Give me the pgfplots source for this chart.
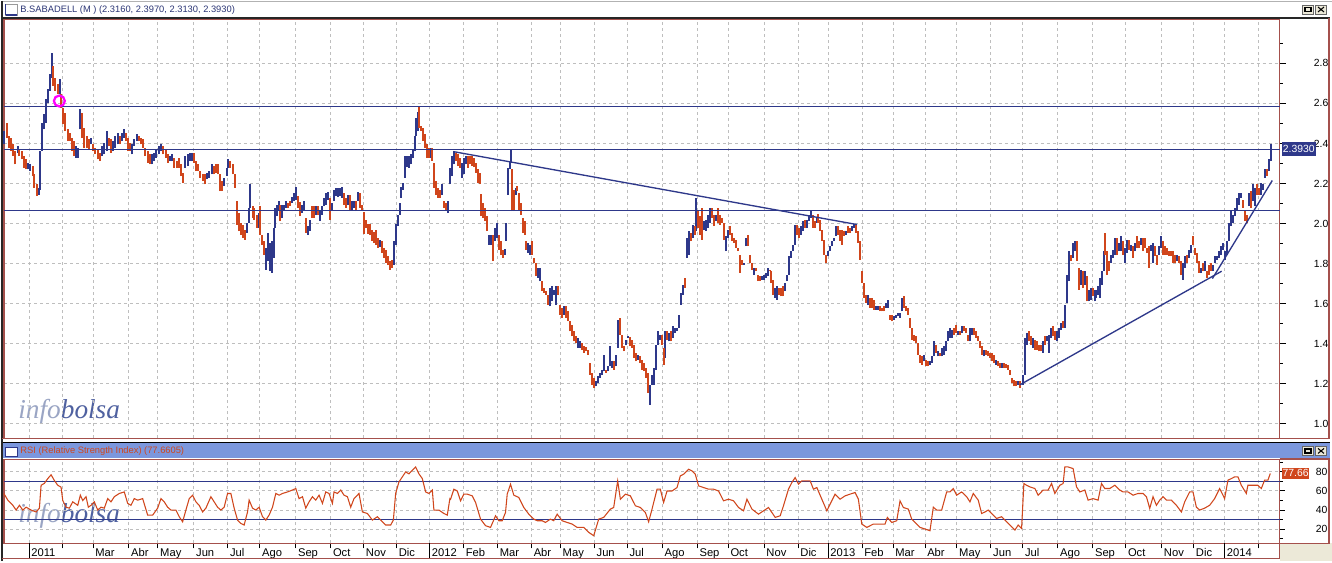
\documentclass[border=0pt]{standalone}
\usepackage{fontspec}
\setmainfont{Liberation Sans}
\newfontfamily\wmfont{Liberation Serif}
\usepackage{pgfplots}
\usepackage{pgfplotstable}
\pgfplotsset{compat=1.18}
\definecolor{navy}{HTML}{2E388A}
\definecolor{upc}{HTML}{2E388A}
\definecolor{dnc}{HTML}{D0461C}
\definecolor{frame}{HTML}{A4504C}
\definecolor{gridc}{HTML}{BEBEBE}
\definecolor{hdr}{HTML}{7B97DD}
\definecolor{beige}{HTML}{ECE9D8}
\definecolor{magent}{HTML}{FF00FF}
\definecolor{titlec}{HTML}{2B3575}
\definecolor{wminfo}{HTML}{9AA5C4}
\definecolor{wmbolsa}{HTML}{4F61A0}

\pgfplotstableread{
x lo hi
3.3 2.395 2.462
16.7 2.354 2.387
27.3 2.270 2.304
29.3 2.262 2.295
37.7 2.145 2.179
39.3 2.170 2.362
41 2.362 2.504
43.3 2.470 2.545
45.3 2.504 2.620
47.3 2.604 2.670
49 2.662 2.745
50.7 2.729 2.850
58.7 2.645 2.720
75 2.329 2.387
76.7 2.329 2.379
79 2.470 2.570
90 2.395 2.429
101.3 2.337 2.387
103.3 2.345 2.404
105.7 2.362 2.462
112 2.362 2.412
114.3 2.379 2.437
116.7 2.395 2.454
120.7 2.412 2.454
122.7 2.429 2.470
131.3 2.345 2.395
133.3 2.387 2.420
135.7 2.412 2.445
151 2.295 2.345
153.3 2.312 2.354
155.3 2.329 2.370
157.7 2.345 2.387
160 2.362 2.395
169 2.312 2.337
171 2.312 2.345
184.3 2.279 2.337
186.7 2.287 2.345
189 2.312 2.354
191 2.312 2.354
206 2.220 2.254
208.3 2.229 2.262
210.7 2.245 2.295
223.3 2.187 2.229
225.7 2.237 2.279
227.3 2.279 2.320
246 1.954 2.004
247.7 2.004 2.079
249.3 2.079 2.195
257.7 1.979 2.054
265 1.770 1.879
267 1.812 1.954
269 1.762 1.904
271 1.754 1.912
273 1.829 1.979
274.3 1.979 2.079
276.3 2.037 2.095
277.7 2.062 2.115
281 2.029 2.095
283 2.070 2.095
285 2.079 2.112
291 2.104 2.132
293 2.112 2.154
295 2.120 2.182
301 2.054 2.095
303 2.070 2.112
307 1.945 1.987
309 1.962 2.020
315 2.045 2.087
319 2.012 2.070
321 2.045 2.087
323 2.087 2.129
325 2.095 2.154
327 2.120 2.159
331 2.070 2.104
333 2.112 2.170
335 2.137 2.179
337 2.132 2.179
339 2.137 2.179
341 2.129 2.182
347 2.095 2.142
351 2.070 2.115
353 2.079 2.115
357 2.115 2.159
379 1.882 1.917
393 1.795 1.912
395 1.895 1.999
397 1.987 2.045
399 2.045 2.104
400.3 2.129 2.182
402.3 2.170 2.204
404.3 2.229 2.337
406.3 2.282 2.337
408.3 2.279 2.337
410.3 2.295 2.345
412.3 2.325 2.370
414 2.362 2.437
415.7 2.437 2.529
417 2.462 2.559
430 2.329 2.379
441.7 2.145 2.195
447.3 2.054 2.112
449.3 2.195 2.279
451 2.237 2.337
453 2.295 2.362
461 2.229 2.304
463 2.245 2.329
465 2.295 2.337
488.7 1.895 1.945
490.7 1.895 1.945
494.3 1.912 1.979
496.3 1.929 2.004
504.3 1.845 1.875
505.7 1.912 2.004
507.7 2.145 2.279
509 2.270 2.312
510.3 2.304 2.370
515 2.145 2.179
528 1.854 1.904
530 1.845 1.895
538 1.729 1.779
540 1.712 1.779
550 1.587 1.679
552 1.612 1.687
554 1.645 1.670
556 1.595 1.687
564 1.545 1.587
578 1.379 1.429
580 1.379 1.412
595.3 1.187 1.212
597.3 1.204 1.237
599.3 1.229 1.254
601.3 1.245 1.270
603.3 1.262 1.345
607.3 1.262 1.287
609.3 1.287 1.387
611.3 1.279 1.312
615.3 1.287 1.345
617.3 1.379 1.520
625.3 1.395 1.420
627.3 1.429 1.437
637.3 1.320 1.345
649.3 1.095 1.195
651.3 1.195 1.245
653.3 1.195 1.279
655.3 1.270 1.395
657.3 1.395 1.462
659.3 1.420 1.445
664.7 1.329 1.462
668.7 1.412 1.454
672.7 1.429 1.487
674.7 1.454 1.479
676.7 1.462 1.479
678.7 1.479 1.545
680.7 1.595 1.654
682.7 1.645 1.695
686.7 1.829 1.929
688.7 1.845 1.962
692.7 1.929 1.995
695.7 1.962 2.129
703.7 1.970 2.012
705.7 1.962 2.020
707.7 1.979 2.045
709.7 2.004 2.079
715.7 2.012 2.045
725.7 1.862 1.937
727.7 1.929 1.970
743.7 1.795 1.804
745.7 1.887 1.929
753.7 1.745 1.779
761.7 1.720 1.737
763.7 1.720 1.745
765.7 1.729 1.754
767.7 1.737 1.779
775 1.629 1.679
777 1.620 1.687
785 1.662 1.704
787 1.712 1.745
789 1.745 1.837
791 1.829 1.862
793 1.862 1.895
795 1.895 1.995
801 1.945 1.987
803 1.962 2.012
807 1.979 2.020
809 2.012 2.045
811 2.029 2.062
817 2.004 2.029
828.3 1.837 1.862
830.3 1.862 1.887
832.3 1.887 1.912
834.3 1.912 1.929
836.3 1.937 1.987
846.3 1.945 1.962
852.3 1.962 1.987
854.3 1.979 1.999
868.3 1.595 1.645
876.3 1.570 1.587
878.3 1.570 1.587
886.3 1.579 1.604
888.3 1.579 1.620
894.3 1.520 1.537
896.3 1.529 1.545
898.3 1.537 1.554
900.3 1.529 1.554
902.3 1.562 1.629
924.3 1.312 1.345
930.3 1.295 1.312
932.3 1.304 1.337
934.3 1.337 1.412
938.3 1.337 1.362
942.3 1.337 1.379
944.3 1.345 1.387
946.3 1.362 1.412
948.3 1.412 1.462
950.3 1.429 1.479
952.3 1.429 1.470
958.3 1.445 1.462
962.3 1.454 1.487
970.3 1.412 1.479
972.3 1.445 1.479
984.3 1.337 1.370
996.3 1.295 1.320
1002.3 1.279 1.304
1018.3 1.195 1.212
1022.7 1.195 1.245
1024.7 1.245 1.429
1026.7 1.395 1.454
1032.7 1.379 1.429
1042.7 1.354 1.412
1046.7 1.412 1.437
1048.7 1.354 1.445
1050.7 1.429 1.479
1056.7 1.412 1.462
1058.7 1.429 1.479
1060.7 1.470 1.504
1064.7 1.479 1.595
1066.7 1.604 1.745
1068.7 1.712 1.862
1072.7 1.829 1.904
1074.7 1.862 1.912
1080.7 1.695 1.770
1084.7 1.695 1.762
1088.7 1.612 1.670
1090.7 1.620 1.679
1094.7 1.612 1.670
1096.7 1.629 1.670
1098.7 1.645 1.687
1100.7 1.629 1.729
1102.7 1.695 1.762
1104 1.762 1.862
1111.7 1.804 1.845
1113.7 1.829 1.870
1115.7 1.845 1.929
1119.7 1.862 1.904
1121.7 1.862 1.937
1125.7 1.804 1.879
1127.7 1.854 1.920
1131.7 1.862 1.895
1135.7 1.862 1.904
1141.7 1.895 1.929
1151.7 1.862 1.895
1153.7 1.804 1.904
1159.7 1.845 1.887
1161.7 1.879 1.937
1177.7 1.812 1.845
1183.3 1.720 1.804
1185.3 1.779 1.837
1189.3 1.829 1.870
1191.3 1.854 1.895
1201.3 1.754 1.779
1205.3 1.762 1.812
1213.3 1.762 1.795
1215.3 1.804 1.837
1217.3 1.820 1.837
1219.3 1.829 1.862
1221.3 1.845 1.887
1223.3 1.870 1.904
1225.3 1.820 1.862
1227.3 1.845 1.912
1229.3 1.912 2.004
1231.3 1.987 2.062
1233.3 2.004 2.045
1235.3 2.037 2.079
1237.3 2.070 2.129
1239.3 2.095 2.154
1241.3 2.129 2.154
1249.3 2.087 2.154
1253.3 2.112 2.195
1255.3 2.087 2.179
1261.3 2.145 2.204
1263.3 2.170 2.195
1265.3 2.229 2.270
1269.3 2.262 2.320
1271.3 2.312 2.399
}\upbars

\pgfplotstableread{
x lo hi
5.7 2.429 2.504
8 2.379 2.437
10 2.362 2.429
12.3 2.337 2.395
14.3 2.295 2.362
18.3 2.337 2.370
20.7 2.320 2.362
22.7 2.279 2.337
25 2.270 2.320
31.7 2.237 2.287
33.3 2.179 2.245
35.7 2.137 2.195
52.3 2.687 2.787
54.3 2.662 2.729
56.7 2.645 2.695
60.3 2.579 2.645
62 2.495 2.579
64.3 2.462 2.554
66.7 2.412 2.470
69 2.412 2.454
71 2.362 2.429
73 2.337 2.412
81 2.429 2.554
83.3 2.379 2.479
85.7 2.379 2.437
87.7 2.370 2.420
92.3 2.362 2.395
94.3 2.345 2.379
96.7 2.320 2.370
99 2.312 2.354
107.7 2.387 2.429
110 2.354 2.420
118.7 2.395 2.437
124.7 2.412 2.454
126.7 2.362 2.429
129 2.362 2.404
137.7 2.412 2.437
140 2.395 2.429
142.3 2.379 2.420
144.3 2.337 2.379
146.7 2.304 2.362
149 2.295 2.345
162.3 2.345 2.387
164.7 2.329 2.370
166.7 2.304 2.345
173.3 2.279 2.329
175.7 2.279 2.312
177.7 2.279 2.329
180 2.237 2.295
182.3 2.204 2.254
192.7 2.304 2.354
195 2.262 2.312
197.3 2.262 2.295
199.3 2.229 2.262
201.7 2.212 2.245
204 2.195 2.245
212.7 2.245 2.287
215 2.254 2.295
217 2.245 2.295
219 2.162 2.245
221 2.162 2.212
229.3 2.279 2.312
231.7 2.245 2.295
234 2.179 2.245
235.7 1.995 2.112
237.7 1.962 2.054
240 1.945 2.004
242.3 1.929 1.995
244.3 1.920 1.970
251.7 2.029 2.087
253.3 2.020 2.079
255.7 1.979 2.045
259 1.945 2.087
261 1.895 1.945
263 1.845 1.912
279.3 2.012 2.095
287 2.079 2.104
289 2.087 2.112
297 2.079 2.137
299 2.037 2.107
305 1.954 2.029
311 2.029 2.087
313 2.029 2.087
317 2.045 2.090
329 2.020 2.129
343 2.095 2.154
345 2.079 2.129
349 2.062 2.142
355 2.062 2.112
359 2.079 2.154
361 2.070 2.095
363 1.949 2.059
365 1.979 2.020
367 1.949 1.999
369 1.942 1.999
371 1.912 1.970
373 1.904 1.959
375 1.895 1.970
377 1.879 1.929
381 1.854 1.915
383 1.829 1.879
385 1.804 1.870
387 1.792 1.837
389 1.770 1.812
391 1.779 1.820
418.3 2.479 2.584
420.3 2.462 2.487
422.3 2.412 2.475
424.3 2.379 2.445
426 2.329 2.395
428 2.329 2.379
431.7 2.312 2.379
433.7 2.179 2.304
435.7 2.145 2.212
437.7 2.129 2.179
439.7 2.129 2.170
443.7 2.079 2.112
445.7 2.070 2.104
455 2.312 2.354
457 2.287 2.345
459 2.279 2.329
467 2.279 2.337
469 2.295 2.337
471 2.287 2.337
473 2.282 2.325
475 2.254 2.304
477 2.204 2.270
479 2.195 2.254
480.7 2.037 2.149
482.7 2.029 2.104
484.7 2.012 2.079
486.7 1.962 2.037
492.3 1.812 1.945
498.3 1.870 1.945
500.3 1.845 1.912
502.3 1.829 1.870
511.7 2.062 2.270
513.3 2.062 2.170
516.7 2.162 2.187
518.7 2.070 2.154
520.7 2.045 2.104
522.7 1.954 2.029
524.7 1.945 2.012
526 1.870 1.912
532 1.845 1.912
534 1.804 1.829
536 1.737 1.804
542 1.662 1.712
544 1.654 1.679
546 1.645 1.662
548 1.595 1.645
558 1.645 1.687
560 1.545 1.595
562 1.529 1.579
566 1.529 1.587
568 1.512 1.562
570 1.462 1.512
572 1.437 1.495
574 1.412 1.462
576 1.404 1.437
582 1.370 1.404
584 1.354 1.387
586 1.362 1.382
588 1.345 1.370
589.3 1.245 1.304
591.3 1.195 1.254
593.3 1.179 1.229
605.3 1.254 1.270
613.3 1.270 1.312
619.3 1.445 1.529
621.3 1.379 1.445
623.3 1.362 1.387
629.3 1.387 1.432
631.3 1.379 1.420
633.3 1.329 1.395
635.3 1.312 1.354
639.3 1.304 1.337
641.3 1.270 1.320
643.3 1.262 1.304
645.3 1.229 1.279
647.3 1.154 1.254
661.3 1.395 1.445
663.3 1.295 1.379
666.7 1.420 1.462
670.7 1.412 1.462
684.7 1.679 1.729
690.7 1.912 1.954
694.3 1.945 1.987
697.7 1.979 2.062
699.7 1.945 2.037
701.7 1.920 2.079
711.7 2.029 2.079
713.7 1.987 2.045
717.7 2.004 2.079
719.7 1.995 2.045
721.7 2.004 2.029
723.7 1.920 2.004
729.7 1.945 1.987
731.7 1.912 1.954
733.7 1.904 1.929
735.7 1.879 1.920
737.7 1.862 1.879
739.7 1.754 1.845
741.7 1.795 1.820
747.7 1.887 1.945
749.7 1.804 1.845
751.7 1.770 1.804
755.7 1.762 1.779
757.7 1.712 1.745
759.7 1.712 1.737
769.7 1.762 1.770
771 1.704 1.762
773 1.645 1.720
779 1.645 1.679
781 1.637 1.679
783 1.637 1.687
797 1.945 1.995
799 1.929 1.979
805 1.979 2.020
813 1.979 2.045
815 1.979 2.012
818.3 2.004 2.049
820.3 1.962 2.020
822.3 1.912 1.970
824.3 1.845 1.920
826.3 1.804 1.845
838.3 1.945 1.987
840.3 1.912 1.970
842.3 1.895 1.970
844.3 1.937 1.962
848.3 1.954 1.987
850.3 1.954 1.979
856.3 1.954 1.995
858.3 1.904 1.962
860.3 1.820 1.912
862.3 1.704 1.762
864.3 1.629 1.704
866.3 1.604 1.645
870.3 1.579 1.629
872.3 1.579 1.629
874.3 1.570 1.620
880.3 1.562 1.587
882.3 1.562 1.579
884.3 1.562 1.587
890.3 1.520 1.545
892.3 1.512 1.545
904.3 1.579 1.637
906.3 1.562 1.587
908.3 1.545 1.579
910.3 1.479 1.529
912.3 1.420 1.479
914.3 1.412 1.445
916.3 1.404 1.437
918.3 1.345 1.404
920.3 1.304 1.345
922.3 1.295 1.337
926.3 1.287 1.320
928.3 1.287 1.312
936.3 1.354 1.395
940.3 1.337 1.354
954.3 1.445 1.479
956.3 1.454 1.495
960.3 1.445 1.462
964.3 1.462 1.487
966.3 1.454 1.479
968.3 1.412 1.445
974.3 1.445 1.479
976.3 1.429 1.462
978.3 1.412 1.437
980.3 1.379 1.412
982.3 1.345 1.387
986.3 1.345 1.370
988.3 1.337 1.362
990.3 1.329 1.354
992.3 1.312 1.354
994.3 1.304 1.345
998.3 1.287 1.312
1000.3 1.279 1.304
1004.3 1.279 1.304
1006.3 1.279 1.299
1008.3 1.270 1.295
1010.3 1.245 1.270
1012.3 1.204 1.229
1014.3 1.187 1.220
1016.3 1.187 1.212
1020.3 1.179 1.212
1028.7 1.412 1.462
1030.7 1.395 1.437
1034.7 1.370 1.420
1036.7 1.370 1.412
1038.7 1.362 1.395
1040.7 1.362 1.395
1044.7 1.395 1.437
1052.7 1.437 1.487
1054.7 1.420 1.462
1062.7 1.479 1.512
1070.7 1.812 1.845
1076.7 1.812 1.912
1078.7 1.670 1.779
1082.7 1.679 1.762
1086.7 1.612 1.737
1092.7 1.637 1.679
1105.7 1.845 1.954
1107.7 1.745 1.862
1109.7 1.762 1.812
1117.7 1.845 1.929
1123.7 1.845 1.912
1129.7 1.870 1.920
1133.7 1.829 1.887
1137.7 1.879 1.937
1139.7 1.879 1.912
1143.7 1.862 1.929
1145.7 1.879 1.929
1147.7 1.854 1.879
1149.7 1.779 1.887
1155.7 1.837 1.887
1157.7 1.795 1.845
1163.7 1.845 1.912
1165.7 1.845 1.887
1167.7 1.845 1.879
1169.7 1.837 1.862
1171.7 1.837 1.862
1173.7 1.804 1.862
1175.7 1.804 1.845
1179.7 1.804 1.837
1181.7 1.745 1.812
1187.3 1.804 1.845
1193.3 1.895 1.937
1195.3 1.845 1.879
1197.3 1.804 1.854
1199.3 1.754 1.812
1203.3 1.762 1.804
1207.3 1.729 1.762
1209.3 1.745 1.795
1211.3 1.762 1.804
1243.3 2.079 2.120
1245.3 2.012 2.070
1247.3 2.004 2.045
1251.3 2.079 2.162
1257.3 2.145 2.195
1259.3 2.145 2.179
1267.3 2.237 2.270
}\downbars

\begin{document}
\begin{tikzpicture}
\begin{scope}[x=0.75pt,y=-0.75pt]
\useasboundingbox (0,0) rectangle (1332,561);
\fill[white] (0,0) rectangle (1332,561);
\fill[beige] (1280,543) rectangle (1332,561);
\node[anchor=base west, inner sep=0pt, font=\wmfont\itshape\fontsize{20.5}{20.5}\selectfont] at (17,418) {\textcolor{wminfo}{info}\textcolor{wmbolsa}{bolsa}};
\node[anchor=base west, inner sep=0pt, font=\wmfont\itshape\fontsize{20.5}{20.5}\selectfont] at (17,522.5) {\textcolor{wminfo}{info}\textcolor{wmbolsa}{bolsa}};
\end{scope}

% ---------------- price panel ----------------
\begin{axis}[
  at={(2.25pt,-328.5pt)}, anchor=south west,
  scale only axis,
  x=0.75pt, y=150.4pt,
  xmin=3, xmax=1280, ymin=0.927, ymax=3.021,
  axis line style={draw=frame, line width=1.2pt},
  xtick={28,61,92,128,157,193,227,259,295,330,363,396,429,463,497,531,560,594,627,662,697,728,764,798,828,862,893,925,957,991,1023,1058,1093,1126,1162,1194,1225,1259},
  xticklabels={},
  x tick style={draw=none},
  ytick={1.0,1.2,1.4,1.6,1.8,2.0,2.2,2.4,2.6,2.8},
  minor ytick={1.1,1.3,1.5,1.7,1.9,2.1,2.3,2.5,2.7,2.9},
  ytick pos=right, yticklabel pos=right,
  tick align=outside,
  major tick length=4.5pt, minor tick length=2.25pt,
  y tick style={black, line width=0.75pt},
  minor y tick style={black, line width=0.75pt},
  xmajorgrids, ymajorgrids,
  major grid style={gridc, line width=0.75pt, dash pattern=on 2.25pt off 2.25pt},
  yticklabel style={anchor=east, inner sep=0pt, xshift=32.3pt, font=\fontsize{7.8}{9}\selectfont,
    /pgf/number format/.cd, fixed, fixed zerofill, precision=1},
  /pgf/number format/assume math mode=true,
  clip=false,
]
\addplot[draw=none, mark=none, error bars/.cd, y dir=plus, y explicit, error mark=none,
  error bar style={line width=1.5pt, draw=upc, solid, line cap=butt}]
  table[x=x, y=lo, y error expr=\thisrow{hi}-\thisrow{lo}] {\upbars};
\addplot[draw=none, mark=none, error bars/.cd, y dir=plus, y explicit, error mark=none,
  error bar style={line width=1.5pt, draw=dnc, solid, line cap=butt}]
  table[x=x, y=lo, y error expr=\thisrow{hi}-\thisrow{lo}] {\downbars};
% support / resistance lines
\addplot[navy, line width=1.1pt, mark=none] coordinates {(3,2.585) (1280,2.585)};
\addplot[navy, line width=1.1pt, mark=none] coordinates {(3,2.370) (1280,2.370)};
\addplot[navy, line width=1.1pt, mark=none] coordinates {(3,2.065) (1280,2.065)};
% trend lines
\addplot[navy, line width=1pt, mark=none] coordinates {(453,2.359) (857,1.995)};
\addplot[navy, line width=1pt, mark=none] coordinates {(1020,1.195) (1222,1.762)};
\addplot[navy, line width=1pt, mark=none] coordinates {(1212.7,1.725) (1272.7,2.215)};
% marker circle
\addplot[magent, only marks, mark=o, mark size=4.1pt, mark options={line width=1.7pt}] coordinates {(58.3,2.612)};
\end{axis}

% ---------------- RSI panel ----------------
\begin{axis}[
  at={(2.25pt,-407.25pt)}, anchor=south west,
  scale only axis,
  x=0.75pt, y=0.716pt,
  xmin=3, xmax=1280, ymin=5.1, ymax=93.1,
  axis line style={draw=frame, line width=1.2pt},
  xtick={28,61,92,128,157,193,227,259,295,330,363,396,429,463,497,531,560,594,627,662,697,728,764,798,828,862,893,925,957,991,1023,1058,1093,1126,1162,1194,1225,1259},
  xticklabels={2011,,Mar,Abr,May,Jun,Jul,Ago,Sep,Oct,Nov,Dic,2012,Feb,Mar,Abr,May,Jun,Jul,Ago,Sep,Oct,Nov,Dic,2013,Feb,Mar,Abr,May,Jun,Jul,Ago,Sep,Oct,Nov,Dic,2014,},
  xtick pos=left,
  x tick style={black, line width=0.75pt},
  xticklabel style={anchor=north west, inner sep=0pt, xshift=1.5pt, yshift=0pt, font=\fontsize{8.4}{9}\selectfont},
  ytick={20,40,60,80},
  minor ytick={10,30,50,70,90},
  ytick pos=right, yticklabel pos=right,
  tick align=outside,
  major tick length=3.8pt, minor tick length=2.25pt,
  y tick style={black, line width=0.75pt},
  minor y tick style={black, line width=0.75pt},
  xmajorgrids, ymajorgrids,
  major grid style={gridc, line width=0.75pt, dash pattern=on 2.25pt off 2.25pt},
  yticklabel style={anchor=east, inner sep=0pt, xshift=32.3pt, font=\fontsize{7.8}{9}\selectfont},
  /pgf/number format/assume math mode=true,
  clip=false,
]
\addplot[navy, line width=1.1pt, mark=none] coordinates {(3,70) (1280,70)};
\addplot[navy, line width=1.1pt, mark=none] coordinates {(3,30) (1280,30)};
\addplot[dnc, line width=0.8pt, mark=none] coordinates {
(2.7,57.4)(6.7,50.4)(11.7,45)(15,40)(18.3,45)(21.7,40)(25,43)(30,40)(35,38)(38.3,42)(40,66)(43.3,68)(46.7,73)(50,77)(53.3,71)(56.7,66)(60,64)(61.7,50)(65,43)(68.3,42)(71.7,48.6)(76.7,45)(79.3,55.6)(81.7,50)(85,54)(87.3,43)(90,45)(93.3,48.6)(96.7,40)(100,43)(103.3,42)(106.7,52)(110,48.6)(113.3,54)(118.3,57.4)(123.3,59)(126.7,47)(130,45)(133.3,52)(136.7,50.4)(141.7,52)(146.7,34.7)(151.7,34.7)(156.7,42)(160,52)(163.3,48.6)(166.7,43)(170,40)(175,40)(178.3,33)(181.7,27.7)(185,40)(188.3,52)(191.7,55.6)(195,48.6)(198.3,45)(201.7,38)(205,42)(210,54)(213.3,48.6)(216.7,43)(220,40)(223.3,43)(226.7,57.4)(230,57.4)(233.3,42)(236.7,29.5)(240,26)(243.3,24.3)(246.7,38)(248.3,50.4)(251.7,42)(255,40)(258.3,43)(261.7,33)(265,29.5)(268.3,34.7)(271.7,43)(275,57.4)(278.3,55.6)(281.7,57.4)(286.7,59)(291.7,61)(295,62.6)(298.3,52)(301.7,54)(305,42)(308.3,48.6)(311.7,54)(315,50.4)(318.3,55.6)(321.7,47)(325,59)(328.3,57.4)(331.7,47)(333.3,59)(336.7,57.4)(340,61)(343.3,55.6)(346.7,54)(350,43)(353.3,52)(358.3,57.4)(361.7,38)(366.7,36.4)(371.7,29.5)(376.7,33)(381.7,27.7)(385,24.3)(390,24.3)(392.7,29.5)(395,57.4)(398.3,69.5)(401.7,74.8)(405,80)(408.3,78)(411.7,81.7)(415,85.2)(418.3,78)(421.7,73)(425,59)(428.3,57.4)(431.7,61)(433.3,40)(438.3,40)(443.3,36.4)(446.7,34.7)(449.3,52)
(450,51.4)(453.3,61.9)(456.7,60)(460,49.7)(463.3,56.7)(466.7,56.7)(471.7,54.9)(475,48)(480,30.5)(485,23.6)(490,21.8)(495,34)(498.3,28.8)(501.7,28.8)(505,37.5)(506.7,56.7)(510,67.1)(513.3,55.6)(518.3,53.2)(523.3,42.7)(528.3,35.7)(533.3,30.5)(536.7,28.8)(541.7,28.8)(545,27)(550,30.5)(553.3,28.8)(556.7,35.7)(561.7,28.8)(566.7,27)(571.7,25.3)(576.7,21.8)(583.3,21.8)(588.3,16.6)(593.3,13.1)(598.3,30.5)(603.3,32.3)(610,41)(613.3,42.7)(617.3,70.6)(620,51.4)(625,56.7)(630,54.9)(635,44.5)(640,42.7)(645,37.5)(648.3,27.7)(651.7,41)(656.7,61.9)(660,61.9)(663.3,48)(666.7,60)(671.7,60)(676.7,63.6)(680,75.8)(683.3,77.6)(688.3,82.8)(691.7,81)(695,77.6)(698.3,65.4)(703.3,63.6)(708.3,61.9)(713.3,61.9)(718.3,60)(723.3,49.7)(728.3,51.4)(733.3,49.7)(738.3,42.7)(743.3,39.2)(746.7,51.4)(751.7,41)(758.3,35.7)(763.3,39.2)(768.3,42.7)(775,32.3)(780,34)(783.3,44.5)(788.3,61.9)(791.7,68.9)(795,74.1)(798.3,67.1)(801.7,70.6)(806.7,70.6)(810,70.6)(813.3,61.9)(816.7,63.6)(821.7,51.4)(826.7,39.2)(830,46.2)(835,56.7)(840,51.4)(845,54.9)(850,56.7)(855,58.4)(858.3,51.4)(861.7,25.3)(866.7,21.8)(873.3,25.3)(880,25.3)(885,25.3)(887.3,32.3)(891.7,27)(896.7,28.8)(900,49.7)(903.3,42.7)(908.3,41)(911.7,30.5)(916.7,25.3)(920,21.8)(925,20.1)(930,18.3)
(933.3,43)(936.7,40)(941.7,40)(946.7,59)(950,59)(953.3,62.6)(956.7,55.6)(961.7,59)(966.7,54)(970,48.6)(973.3,57.4)(978.3,50.4)(981.7,36.4)(985,38)(988.3,40)(991.7,36.4)(996.7,31.2)(1001.7,33)(1006.7,27.7)(1011.7,22.5)(1015,19)(1018.3,24.3)(1021.7,20.8)(1024,67.8)(1026.7,66)(1030,64.3)(1035,62.6)(1038.3,55.6)(1043.3,61)(1048.3,61)(1051.7,67.8)(1055,57.4)(1060,66)(1063.3,67.8)(1065,85.2)(1068.3,85.2)(1073.3,83.5)(1076.7,64.3)(1080,59)(1085,61)(1088.3,50.4)(1093.3,52)(1098.3,50.4)(1101.7,67.8)(1105,62.6)(1110,62.6)(1115,66)(1120,61)(1123.3,59)(1128.3,59)(1133.3,55.6)(1138.3,57.4)(1143.3,57.4)(1146.7,54)(1150,41.7)(1153.3,54)(1156.7,45)(1160,50.4)(1163.3,54)(1166.7,50.4)(1171.7,50.4)(1176.7,45)(1181.7,38)(1185,48.6)(1190,59)(1193.3,59)(1196.7,43)(1200,40)(1205,42)(1210,45)(1215,52)(1220,62.6)(1225,52)(1228.3,71.3)(1231.7,73)(1235,74.8)(1238.3,74.8)(1241.7,66)(1246.7,57.4)(1248.3,66)(1253.3,66)(1258.3,66)(1261.7,62.6)(1265,71.3)(1268.3,71.3)(1270.7,78.3)
};
\end{axis}

% ---------------- window chrome ----------------
\begin{scope}[x=0.75pt,y=-0.75pt]
\draw[gray!60, line width=0.75pt] (0,0.4) -- (1332,0.4);
\draw[black!85, line width=1.2pt] (0,17) -- (1330,17);
\draw[black!85, line width=1.5pt] (1,0) -- (1,561);
\draw[frame, line width=1.2pt] (1329.3,17) -- (1329.3,438);
\draw[frame, line width=1.2pt] (1,438) -- (1330,438);
\draw[black, line width=0.75pt] (2,442.5) -- (1330,442.5);
\fill[hdr] (2,443) rectangle (1330,457.6);
\draw[frame, line width=1.2pt] (1280,458.6) -- (1330,458.6);
\draw[frame, line width=1.2pt] (1329.3,458) -- (1329.3,543);
\draw[frame, line width=1.2pt] (1280,543) -- (1330,543);
\draw[frame, line width=1.2pt] (1,558) -- (1280,558);
\draw[frame, line width=1.2pt] (1280,543) -- (1280,558);
\foreach \yx in {28,429,828,1225} {\draw[black, line width=0.9pt] (\yx,543) -- (\yx,558);}
% icons
\draw[black!40, fill=white, line width=0.6pt] (4,3) rectangle (16.5,14.5);
\draw[navy, line width=1pt] (4.5,14) -- (16,14) (4.5,3.5) -- (4.5,14);
\draw[navy, line width=0.6pt, fill=white] (4,446.5) rectangle (16.5,455.5);
\draw[navy, line width=1.2pt] (4,447) -- (16.5,447);
% buttons
\foreach \by in {4,446} {
  \draw[black!60, fill=beige, line width=0.6pt] (1303,\by) rectangle (1314,\by+9);
  \draw[black, line width=1.1pt] (1305.5,\by+2.5) rectangle (1311.5,\by+6.5);
  \draw[black!60, fill=beige, line width=0.6pt] (1316,\by) rectangle (1327,\by+9);
  \draw[black, line width=0.8pt] (1318.5,\by+2) -- (1324.5,\by+7) (1318.5,\by+7) -- (1324.5,\by+2);
}
% header texts
\node[anchor=west, inner sep=0pt, text=titlec, font=\fontsize{7}{8}\selectfont] at (19,8.8) {B.SABADELL (M ) (2.3160, 2.3970, 2.3130, 2.3930)};
\node[anchor=west, inner sep=0pt, text=dnc, font=\fontsize{7}{8}\selectfont] at (19,450.3) {RSI (Relative Strength Index) (77.6605)};
% last value boxes
\node[anchor=west, fill=navy, text=white, inner xsep=0.8pt, inner ysep=0pt, minimum height=10.5pt, font=\fontsize{7.8}{8}\selectfont] at (1282,148) {2.3930};
\node[anchor=west, fill=dnc, text=white, inner xsep=0.6pt, inner ysep=0pt, minimum height=8.3pt, font=\fontsize{7.8}{8}\selectfont] at (1282,472.8) {77.66};
\end{scope}
\end{tikzpicture}
\end{document}
